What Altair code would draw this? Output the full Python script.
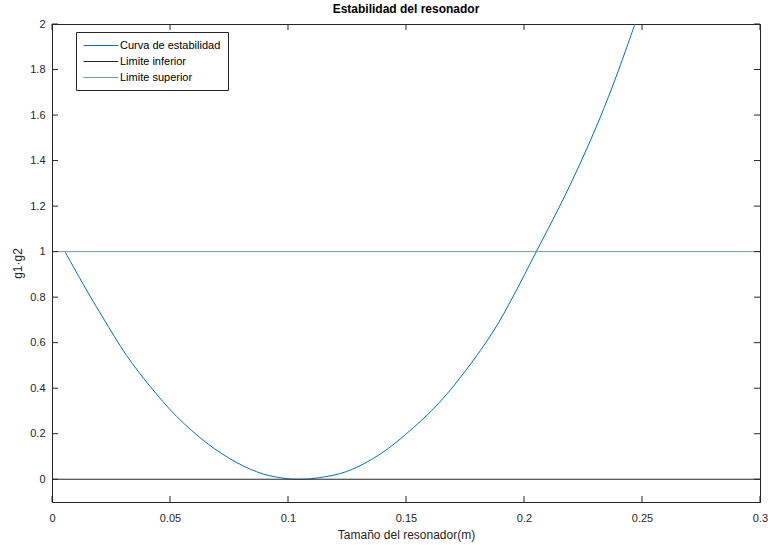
import altair as alt
import pandas as pd

# Curve
curve_L = [0.0055, 0.0133, 0.0217, 0.0316, 0.0415, 0.0528, 0.0656, 0.0783, 0.0895,
           0.0994, 0.1050, 0.1120, 0.1249, 0.1390, 0.1531, 0.1644, 0.1757, 0.1870,
           0.1955, 0.2052, 0.2153, 0.2237, 0.2322, 0.2393, 0.2470]
curve_g = [1.000, 0.855, 0.708, 0.544, 0.409, 0.276, 0.159, 0.073, 0.023,
           0.003, 0.000, 0.005, 0.034, 0.110, 0.226, 0.340, 0.483, 0.650,
           0.805, 1.000, 1.203, 1.385, 1.587, 1.776, 2.000]

limit_x = [0.0, 0.3]
lower_y = [0.0, 0.0]
upper_y = [1.0, 1.0]

series_names = ["Curva de estabilidad", "Limite inferior", "Limite superior"]
series_colors = ["#0072BD", "#262626", "#6F9C9C"]

x_ticks = [0, 0.05, 0.1, 0.15, 0.2, 0.25, 0.3]
y_ticks = [0, 0.2, 0.4, 0.6, 0.8, 1, 1.2, 1.4, 1.6, 1.8, 2]

rows = []
for i, (l, g) in enumerate(zip(curve_L, curve_g)):
    rows.append({"L": l, "g": g, "serie": series_names[0], "i": i})
for i, (l, g) in enumerate(zip(limit_x, lower_y)):
    rows.append({"L": l, "g": g, "serie": series_names[1], "i": i})
for i, (l, g) in enumerate(zip(limit_x, upper_y)):
    rows.append({"L": l, "g": g, "serie": series_names[2], "i": i})
df = pd.DataFrame(rows)

W, H = 708, 478
TXT = "#262626"

xscale = alt.Scale(domain=[0, 0.3], nice=False, zero=False)
yscale = alt.Scale(domain=[-0.1, 2], nice=False, zero=False)

lines = alt.Chart(df).mark_line(strokeWidth=1, clip=True, interpolate="catmull-rom").encode(
    x=alt.X("L:Q", scale=xscale,
            axis=alt.Axis(values=x_ticks, title="Tamaño del resonador(m)", ticks=False,
                          grid=False, labelPadding=10, titlePadding=6,
                          format="~g", labelFlush=False)),
    y=alt.Y("g:Q", scale=yscale,
            axis=alt.Axis(values=y_ticks, title="g1·g2", ticks=False, grid=False,
                          labelPadding=7, titlePadding=5, format="~g", labelFlush=False)),
    color=alt.Color("serie:N",
                    scale=alt.Scale(domain=series_names, range=series_colors),
                    sort=series_names,
                    legend=alt.Legend(title=None, orient="none", legendX=24, legendY=8,
                                      symbolType="M-1,0H4.8", symbolSize=144,
                                      symbolStrokeWidth=1, labelOffset=24,
                                      padding=7, rowPadding=4, labelFontSize=11,
                                      labelColor="#000000", strokeColor=TXT,
                                      fillColor="white", cornerRadius=0)),
    detail="serie:N",
    order="i:Q",
)

xt = pd.DataFrame({"v": x_ticks})
yt = pd.DataFrame({"v": y_ticks})

xtick_bottom = alt.Chart(xt).mark_rule(color=TXT, strokeWidth=1).encode(
    x=alt.X("v:Q", scale=xscale), y=alt.value(H), y2=alt.value(H - 6))
xtick_top = alt.Chart(xt).mark_rule(color=TXT, strokeWidth=1).encode(
    x=alt.X("v:Q", scale=xscale), y=alt.value(0), y2=alt.value(6))
ytick_left = alt.Chart(yt).mark_rule(color=TXT, strokeWidth=1).encode(
    y=alt.Y("v:Q", scale=yscale), x=alt.value(0), x2=alt.value(6))
ytick_right = alt.Chart(yt).mark_rule(color=TXT, strokeWidth=1).encode(
    y=alt.Y("v:Q", scale=yscale), x=alt.value(W), x2=alt.value(W - 6))

chart = alt.layer(lines, xtick_bottom, xtick_top, ytick_left, ytick_right).properties(
    width=W, height=H,
    title=alt.TitleParams("Estabilidad del resonador", fontSize=12, fontWeight="bold",
                          color="#000000", anchor="middle", frame="group", offset=2,
                          font="Liberation Sans"),
    autosize=alt.AutoSizeParams(type="none"),
    padding={"left": 52, "top": 24, "right": 8, "bottom": 43},
).configure(
    font="Liberation Sans",
    background="white",
).configure_view(
    stroke=TXT, strokeWidth=1,
).configure_axis(
    domainColor=TXT, labelColor=TXT, titleColor=TXT, labelFontSize=11,
    titleFontSize=12, titleFontWeight="normal", labelFont="Liberation Sans",
    titleFont="Liberation Sans",
)

chart.save("out.html", embed_options={"renderer": "svg", "actions": False})
